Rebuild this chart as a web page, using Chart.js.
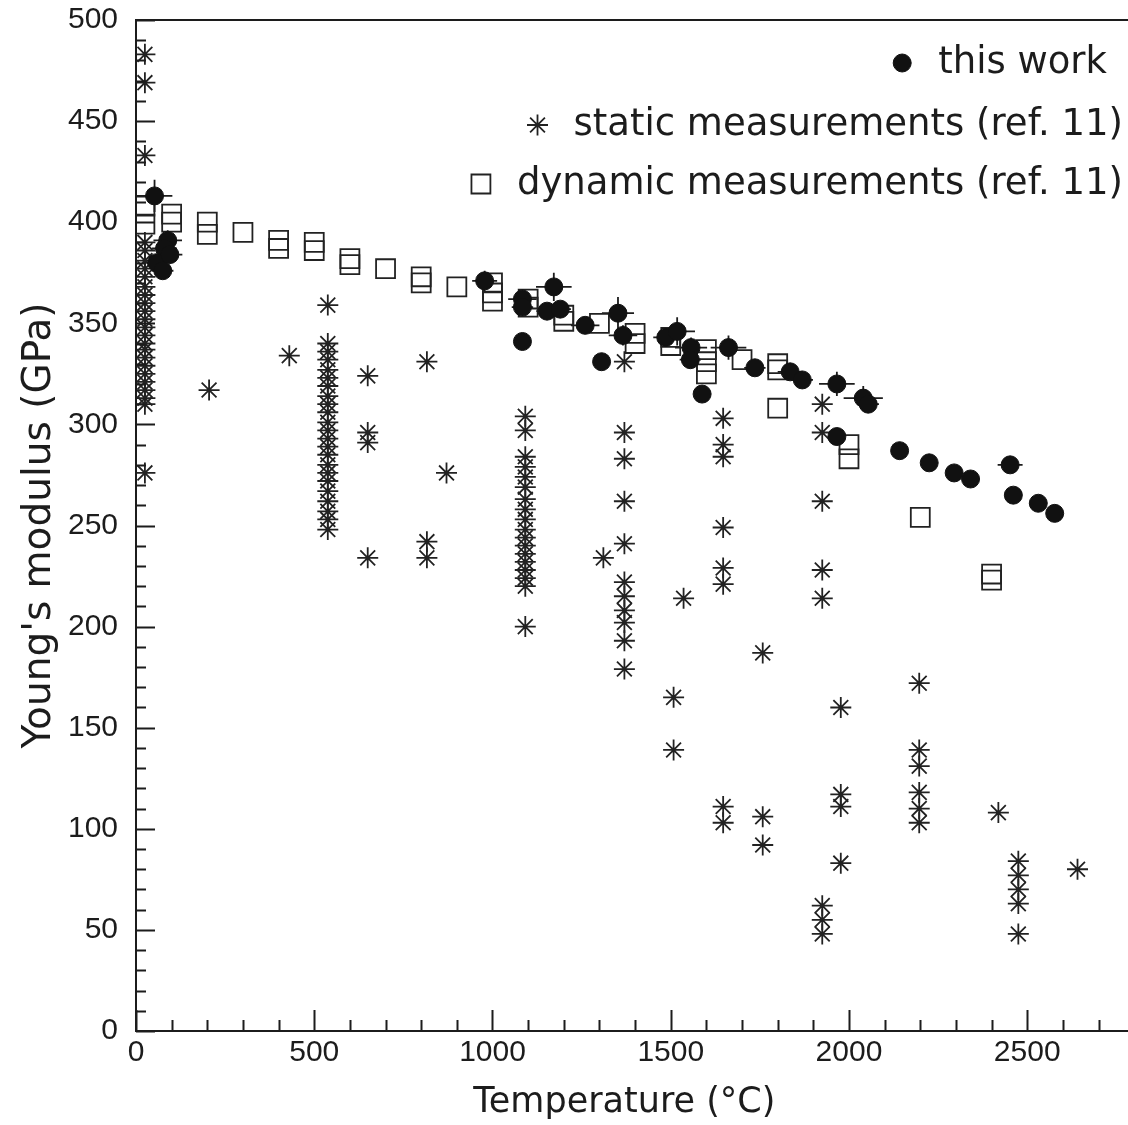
<!DOCTYPE html>
<html><head><meta charset="utf-8">
<script src="https://cdn.jsdelivr.net/npm/chart.js@4.4.1/dist/chart.umd.min.js"></script>
<style>html,body{margin:0;padding:0;background:#fff;overflow:hidden;}#wrap{width:1128px;height:1125px;position:relative;}</style>
</head><body><div id="wrap"><canvas id="c"></canvas></div>
<script>
// ---- tick labels ----
const xTickValues = [0, 500, 1000, 1500, 2000, 2500];
const yTickValues = [0, 50, 100, 150, 200, 250, 300, 350, 400, 450, 500];
const seriesLabels = ['this work', 'static measurements (ref. 11)', 'dynamic measurements (ref. 11)'];

// ---- this work (filled circles with error bars) ----
const thisWorkT    = [52, 89, 80, 58, 75, 95, 978, 1084, 1084, 1084, 1153, 1172, 1190, 1260, 1306, 1352, 1366, 1486, 1518, 1557, 1555, 1588, 1662, 1736, 1835, 1869, 1966, 2040, 2054, 1966, 2142, 2225, 2295, 2341, 2452, 2461, 2531, 2577];
const thisWorkE    = [413, 391, 387, 380, 376, 384, 371, 362, 358, 341, 356, 368, 357, 349, 331, 355, 344, 343, 346, 338, 332, 315, 338, 328, 326, 322, 320, 313, 310, 294, 287, 281, 276, 273, 280, 265, 261, 256];
const thisWorkTErr = [50, 40, 35, 30, 30, 35, 35, 40, 30, 0, 30, 50, 30, 40, 0, 45, 40, 35, 50, 45, 30, 0, 50, 30, 35, 30, 50, 55, 30, 0, 0, 0, 0, 0, 35, 0, 0, 0];
const thisWorkEErr = [8, 5, 4, 4, 4, 4, 5, 5, 4, 0, 4, 7, 4, 4, 0, 8, 5, 4, 7, 5, 4, 0, 6, 4, 4, 4, 6, 6, 4, 0, 0, 0, 0, 0, 3, 0, 0, 0];

// ---- static measurements (ref. 11): temperature columns and their values ----
const staticTemps = [25, 205, 430, 538, 650, 816, 871, 1092, 1311, 1370, 1508, 1536, 1647, 1758, 1925, 1977, 2197, 2419, 2475, 2641];
const staticValues = [
  [483, 469, 433, 390, 386, 381, 377, 373, 368, 364, 360, 356, 352, 348, 344, 340, 337, 333, 329, 325, 321, 317, 313, 310, 276],
  [317],
  [334],
  [359, 340, 336, 332, 327, 323, 319, 314, 310, 306, 301, 297, 293, 289, 285, 280, 276, 272, 267, 262, 257, 253, 248],
  [324, 296, 291, 234],
  [331, 242, 234],
  [276],
  [304, 297, 284, 279, 274, 269, 263, 258, 253, 248, 244, 240, 236, 232, 228, 224, 220, 200],
  [234],
  [331, 296, 283, 262, 241, 222, 215, 208, 202, 193, 179],
  [165, 139],
  [214],
  [303, 290, 284, 249, 229, 221, 111, 103],
  [187, 106, 92],
  [310, 296, 262, 228, 214, 62, 55, 48],
  [160, 117, 111, 83],
  [172, 139, 131, 118, 110, 103],
  [108],
  [84, 77, 70, 63, 48],
  [80]
];

// ---- dynamic measurements (ref. 11) ----
const dynamicTemps = [25, 100, 200, 300, 400, 500, 600, 700, 800, 900, 1000, 1100, 1200, 1300, 1400, 1500, 1600, 1700, 1800, 2000, 2200, 2400];
const dynamicValues = [
  [408, 399], [404, 400], [400, 394], [395], [391, 387], [390, 386], [382, 379], [377],
  [373, 370], [368], [370, 365, 361], [362, 358], [354, 351], [350], [345, 340], [343, 339],
  [337, 331, 325], [332], [330, 327, 308], [290, 283], [254], [226, 223]
];

function pairs(temps, values) {
  const out = [];
  temps.forEach((t, i) => values[i].forEach(v => out.push({ x: t, y: v })));
  return out;
}

const INK = '#1c1c1c';

const frameTicks = {
  id: 'frameTicks',
  afterDatasetsDraw(chart, args, o) {
    const { ctx, chartArea: a, scales: { x, y } } = chart;
    ctx.save();
    ctx.strokeStyle = o.color;
    ctx.lineWidth = o.lineWidth;
    ctx.beginPath();
    ctx.moveTo(chart.width + 2, a.top); ctx.lineTo(a.left, a.top);
    ctx.lineTo(a.left, a.bottom); ctx.lineTo(chart.width + 2, a.bottom);
    for (let v = x.min; v <= x.max; v += o.xMinor) {
      const px = Math.round(x.getPixelForValue(v)) + 0.5;
      const len = xTickValues.includes(v) ? o.xMajorLen : o.xMinorLen;
      ctx.moveTo(px, a.bottom); ctx.lineTo(px, a.bottom - len);
    }
    for (let v = y.min; v <= y.max; v += o.yMinor) {
      const py = Math.round(y.getPixelForValue(v)) + 0.5;
      const len = yTickValues.includes(v) ? o.yMajorLen : o.yMinorLen;
      ctx.moveTo(a.left, py); ctx.lineTo(a.left + len, py);
    }
    ctx.stroke();
    ctx.restore();
  }
};

const errorBars = {
  id: 'errorBars',
  beforeDatasetsDraw(chart, args, o) {
    const { ctx, scales: { x, y } } = chart;
    ctx.save();
    ctx.strokeStyle = o.color;
    ctx.lineWidth = o.lineWidth;
    ctx.beginPath();
    thisWorkT.forEach((t, i) => {
      const e = thisWorkE[i];
      const px = x.getPixelForValue(t), py = y.getPixelForValue(e);
      if (thisWorkTErr[i]) {
        ctx.moveTo(x.getPixelForValue(t - thisWorkTErr[i]), py);
        ctx.lineTo(x.getPixelForValue(t + thisWorkTErr[i]), py);
      }
      if (thisWorkEErr[i]) {
        ctx.moveTo(px, y.getPixelForValue(e - thisWorkEErr[i]));
        ctx.lineTo(px, y.getPixelForValue(e + thisWorkEErr[i]));
      }
    });
    ctx.stroke();
    ctx.restore();
  }
};

const insetLegend = {
  id: 'insetLegend',
  afterDraw(chart, args, o) {
    const ctx = chart.ctx;
    ctx.save();
    ctx.font = o.font;
    ctx.textBaseline = 'middle';
    ctx.textAlign = 'right';
    chart.data.datasets.forEach((ds, i) => {
      const row = o.rows[i];
      ctx.fillStyle = o.color;
      ctx.fillText(ds.label, row.right, row.y);
      const w = ctx.measureText(ds.label).width;
      const mx = row.right - w - o.gap;
      ctx.strokeStyle = ds.borderColor;
      ctx.fillStyle = ds.backgroundColor;
      ctx.lineWidth = ds.borderWidth;
      Chart.helpers.drawPoint(ctx, { pointStyle: ds.pointStyle, radius: ds.pointRadius, borderWidth: ds.borderWidth, rotation: 0 }, mx, row.y);
    });
    ctx.restore();
  }
};

new Chart(document.getElementById('c'), {
  type: 'scatter',
  data: {
    datasets: [
      { label: seriesLabels[0], data: thisWorkT.map((t, i) => ({ x: t, y: thisWorkE[i] })),
        pointStyle: 'circle', pointRadius: 9, pointHoverRadius: 9, backgroundColor: '#111', borderColor: '#111', borderWidth: 1, order: 0 },
      { label: seriesLabels[1], data: pairs(staticTemps, staticValues),
        pointStyle: 'star', pointRadius: 10.5, pointHoverRadius: 10.5, backgroundColor: 'rgba(0,0,0,0)', borderColor: '#222', borderWidth: 1.8, order: 1 },
      { label: seriesLabels[2], data: pairs(dynamicTemps, dynamicValues),
        pointStyle: 'rect', pointRadius: 13.4, pointHoverRadius: 13.4, backgroundColor: 'rgba(0,0,0,0)', borderColor: '#222', borderWidth: 1.8, order: 2 }
    ]
  },
  options: {
    responsive: true,
    maintainAspectRatio: false,
    animation: false,
    devicePixelRatio: 1,
    layout: { padding: { top: 20, right: 0, left: 0, bottom: 0 } },
    plugins: {
      legend: { display: false },
      tooltip: { enabled: false },
      frameTicks: { color: INK, lineWidth: 2, xMinor: 100, yMinor: 10, xMajorLen: 21, xMinorLen: 11, yMajorLen: 19, yMinorLen: 10 },
      errorBars: { color: INK, lineWidth: 1.8 },
      insetLegend: { font: '37px "DejaVu Sans"', color: INK, gap: 36,
        rows: [ { y: 63, right: 1107 }, { y: 125, right: 1123 }, { y: 184, right: 1123 } ] }
    },
    scales: {
      x: {
        type: 'linear', min: 0, max: 2740,
        afterBuildTicks: s => { s.ticks = xTickValues.map(v => ({ value: v })); },
        afterFit: s => { s.height = 94; s.paddingLeft = 0; s.paddingRight = 0; },
        grid: { display: false, drawTicks: false },
        border: { display: false },
        ticks: { autoSkip: false, maxRotation: 0, padding: 4, color: INK, font: { family: 'Liberation Sans', size: 30 },
                 callback: v => String(v) },
        title: { display: true, text: 'Temperature (°C)', color: INK, font: { family: 'DejaVu Sans', size: 35 }, padding: { top: 0, bottom: 1 } }
      },
      y: {
        type: 'linear', min: 0, max: 500,
        afterBuildTicks: s => { s.ticks = yTickValues.map(v => ({ value: v })); },
        afterFit: s => { s.width = 136; s.paddingTop = 0; s.paddingBottom = 0; },
        grid: { display: false, drawTicks: false },
        border: { display: false },
        ticks: { autoSkip: false, padding: 18, color: INK, font: { family: 'Liberation Sans', size: 30 },
                 callback: v => String(v) },
        title: { display: true, text: "Young's modulus (GPa)", color: INK, font: { family: 'DejaVu Sans', size: 39 }, padding: { top: 16, bottom: 0 } }
      }
    }
  },
  plugins: [frameTicks, errorBars, insetLegend]
});
</script></body></html>
